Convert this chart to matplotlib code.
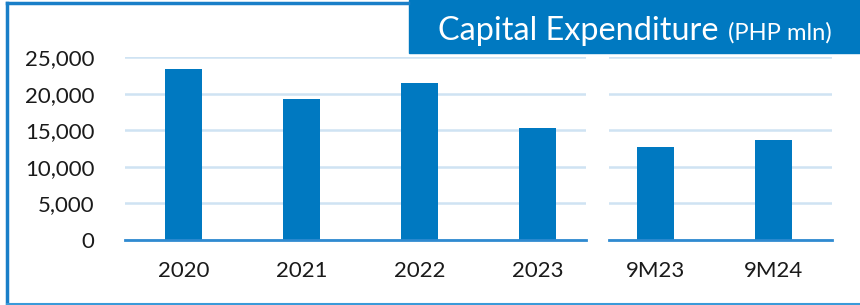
import matplotlib
matplotlib.use('Agg')
import matplotlib.pyplot as plt
from matplotlib.patches import Rectangle
from matplotlib.lines import Line2D

# Datos
years = ['2020', '2021', '2022', '2023']
capex_years = [23300, 19200, 21500, 15300]
periods = ['9M23', '9M24']
capex_periods = [12700, 13600]
yticks = [0, 5000, 10000, 15000, 20000, 25000]

W, H = 860, 305
blue = '#0079c1'
grid_col = '#cfe3f3'
zero_col = '#2f8ad0'

plt.rcParams['font.family'] = ['Lato', 'DejaVu Sans']

fig = plt.figure(figsize=(W/100, H/100), dpi=100)

def px_axes(x0, x1, ytop, ybot):
    return fig.add_axes([x0/W, (H-ybot)/H, (x1-x0)/W, (ybot-ytop)/H])

def style(ax):
    ax.set_ylim(0, 25000)
    ax.set_yticks(yticks)
    ax.grid(axis='y', color=grid_col, linewidth=1.8)
    ax.set_axisbelow(True)
    for s in ['top', 'right', 'left']:
        ax.spines[s].set_visible(False)
    ax.spines['bottom'].set_color(zero_col)
    ax.spines['bottom'].set_linewidth(2)
    ax.tick_params(axis='both', length=0, labelsize=16, colors='#1a1a1a')
    ax.tick_params(axis='x', pad=15)
    ax.set_facecolor('none')

# Primer panel: años
ax1 = px_axes(125, 586, 57, 240)
ax1.bar(range(len(years)), capex_years, width=0.314, color=blue)
ax1.set_xticks(range(len(years)))
ax1.set_xticklabels(years)
ax1.set_xlim(-0.5, 3.41)
style(ax1)
ax1.set_yticklabels([f'{v:,}' for v in yticks])
ax1.tick_params(axis='y', pad=22)

# Segundo panel: 9 meses
ax2 = px_axes(609, 832, 57, 240)
ax2.bar(range(len(periods)), capex_periods, width=0.314, color=blue)
ax2.set_xticks(range(len(periods)))
ax2.set_xticklabels(periods)
ax2.set_xlim(-0.394, 1.496)
style(ax2)
ax2.set_yticklabels([])

# Marco
fig.add_artist(Line2D([7/W, 7/W], [0, 1 - 3/H], color='#1a7fc8', linewidth=2.5, transform=fig.transFigure))
fig.add_artist(Line2D([7/W, 408/W], [1 - 3/H, 1 - 3/H], color='#1a7fc8', linewidth=2.5, transform=fig.transFigure))
fig.add_artist(Line2D([7/W, 1], [1.5/H, 1.5/H], color='#3a9ad9', linewidth=1.5, transform=fig.transFigure))

# Caja del título
fig.add_artist(Rectangle((409/W, 1 - 53/H), 1 - 409/W, 53/H, color=blue, transform=fig.transFigure))
t1 = fig.text(438/W, 1 - 40/H, 'Capital Expenditure', color='white', fontsize=23.3,
              va='baseline', ha='left')
fig.canvas.draw()
bb = t1.get_window_extent()
fig.text((bb.x1 + 9)/W, 1 - 40/H, '(PHP mln)', color='white', fontsize=17.1,
         va='baseline', ha='left')

fig.savefig('out.png', dpi=100)
